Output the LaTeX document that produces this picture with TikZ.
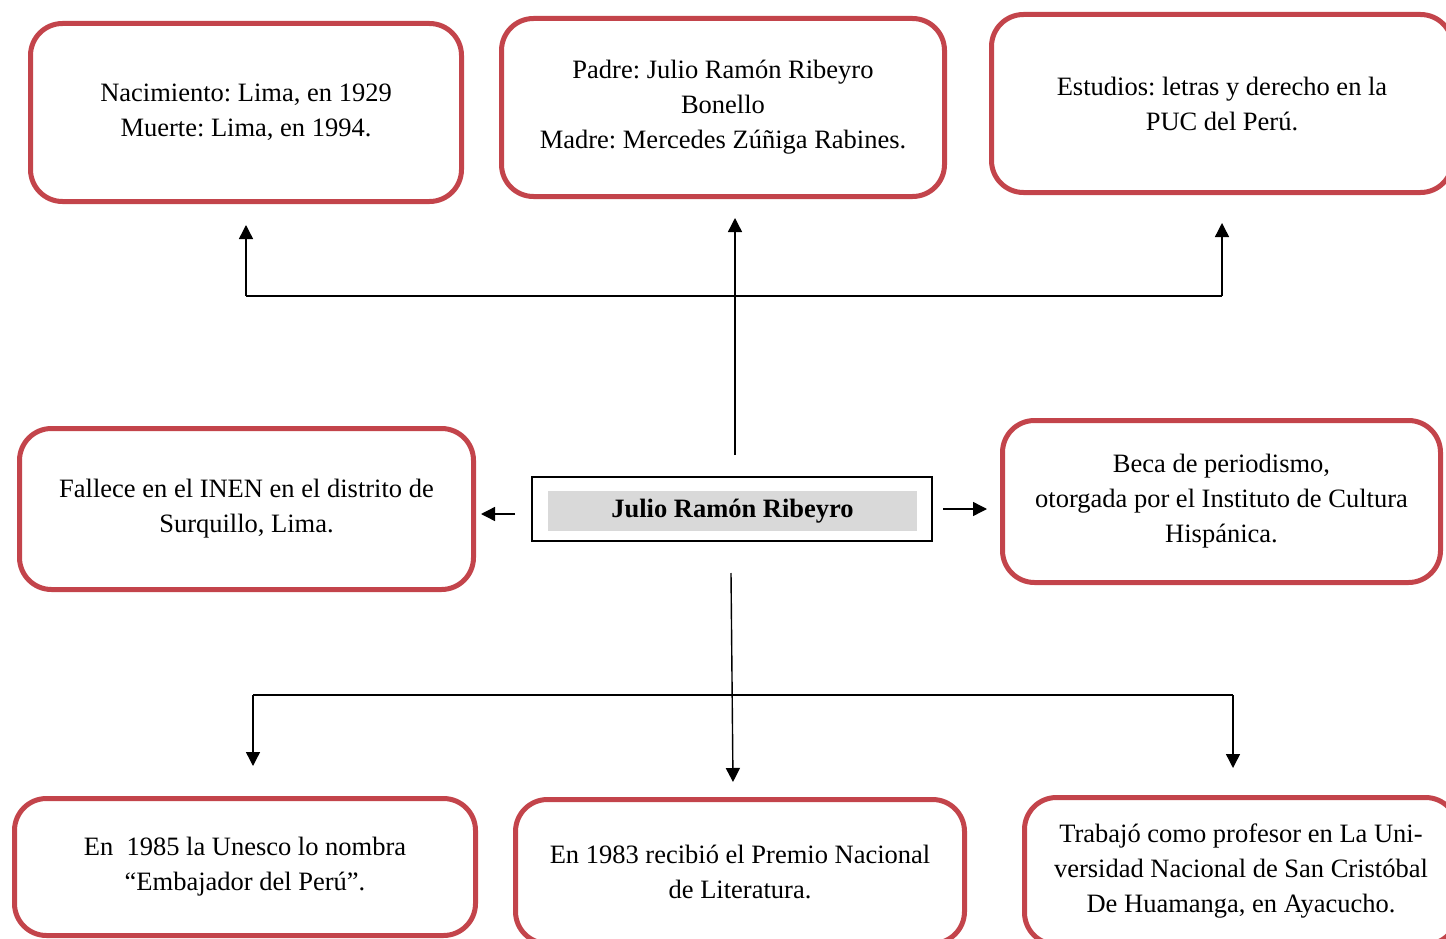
\documentclass[tikz,border=0pt]{standalone}
\usepackage{fontspec}
\setmainfont{Liberation Serif}
\usetikzlibrary{arrows.meta}
\definecolor{boxred}{HTML}{C3444B}
\definecolor{boxgray}{HTML}{D9D9D9}
\frenchspacing
\begin{document}
\begin{tikzpicture}[x=1pt,y=-1pt,
  infobox/.style={draw=boxred, line width=5pt, rounded corners=32pt, align=center,
    font=\fontsize{26.5}{35}\selectfont\frenchspacing, inner sep=0pt},
  conn/.style={draw=black, line width=1.4pt},
  arr/.style={conn, -{Triangle[length=14pt,width=14pt]}}]
\useasboundingbox (0,0) rectangle (1446,939);
% boxes
\node[infobox, minimum width=431pt, minimum height=178pt] (b1) at (246,112.5)
  {Nacimiento: Lima, en 1929\\Muerte: Lima, en 1994.};
\node[infobox, minimum width=443pt, minimum height=178pt] (b2) at (723,107.5)
  {Padre: Julio Ramón Ribeyro\\Bonello\\Madre: Mercedes Zúñiga Rabines.};
\node[infobox, minimum width=461pt, minimum height=178pt] (b3) at (1222,103.5)
  {Estudios: letras y derecho en la\\PUC del Perú.};
\node[infobox, minimum width=454pt, minimum height=161pt] (b4) at (246.5,509)
  {Fallece en el INEN en el distrito de\\Surquillo, Lima.};
\node[infobox, minimum width=438pt, minimum height=162pt] (b5) at (1221.5,501.5)
  {Beca de periodismo,\\otorgada por el Instituto de Cultura\\Hispánica.};
\node[infobox, minimum width=461pt, minimum height=137pt] (b6) at (245,867)
  {En\ \ 1985 la Unesco lo nombra\\“Embajador del Perú”.};
\node[infobox, minimum width=449pt, minimum height=144pt] (b7) at (740,871.5)
  {En 1983 recibió el Premio Nacional\\de Literatura.};
\node[infobox, minimum width=433pt, minimum height=147pt] (b8) at (1241,871)
  {Trabajó como profesor en La Uni-\\versidad Nacional de San Cristóbal\\De Huamanga, en Ayacucho.};
% center
\node[draw=black, line width=2.5pt, minimum width=400pt, minimum height=64pt] (c) at (732,509) {};
\node[fill=boxgray, minimum width=369pt, minimum height=40pt, inner sep=0pt,
  font=\fontsize{26.5}{35}\selectfont\bfseries] (ct) at (732.5,511) {Julio Ramón Ribeyro};
% connector points
\coordinate (upS) at (735,455);
\coordinate (upE) at (735,218);
\coordinate (jL) at (246,296);
\coordinate (jR) at (1222,296);
\coordinate (aL) at (246,225);
\coordinate (aR) at (1222,223);
\coordinate (lS) at (515,514);
\coordinate (lE) at (481,514);
\coordinate (rS) at (943,509);
\coordinate (rE) at (987,509);
\coordinate (dS) at (731,573);
\coordinate (dE) at (733,782);
\coordinate (kL) at (253,695);
\coordinate (kR) at (1233,695);
\coordinate (dL) at (253,766);
\coordinate (dR) at (1233,768);
% connectors
\draw[arr] (upS) -- (upE);
\draw[conn] (jL) -- (jR);
\draw[arr] (jL) -- (aL);
\draw[arr] (jR) -- (aR);
\draw[arr] (lS) -- (lE);
\draw[arr] (rS) -- (rE);
\draw[arr] (dS) -- (dE);
\draw[conn] (kL) -- (kR);
\draw[arr] (kL) -- (dL);
\draw[arr] (kR) -- (dR);
\end{tikzpicture}
\end{document}
